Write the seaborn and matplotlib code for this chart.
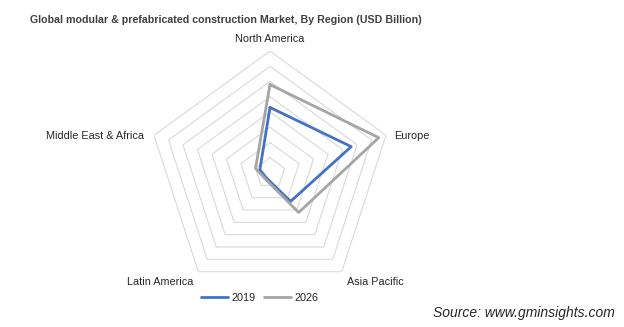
import numpy as np
import pandas as pd
import matplotlib
matplotlib.use("Agg")
import matplotlib.pyplot as plt
import seaborn as sns

categories = ["North America", "Europe", "Asia Pacific", "Latin America", "Middle East & Africa"]
values_2019 = [43, 56, 23, 4, 7]
values_2026 = [58, 75, 32, 5, 10]
years = ["2019", "2026"]
ring_levels = [10, 20, 30, 40, 50, 60, 70, 80]

sns.set_theme(style="white")
plt.rcParams['font.family'] = ['Liberation Sans', 'DejaVu Sans']

n = len(categories)
angles = np.linspace(0, 2 * np.pi, n, endpoint=False)

rows = []
for yr, vals in zip(years, [values_2019, values_2026]):
    for a, v in zip(list(angles) + [2 * np.pi], list(vals) + [vals[0]]):
        rows.append({"theta": a, "value": v, "year": yr})
df = pd.DataFrame(rows)

fig = plt.figure(figsize=(6.24, 3.27), dpi=100)
ax = fig.add_axes([0.2372, 0.0979, 0.391, 0.746], projection="polar")
ax.set_theta_offset(np.pi / 2)
ax.set_theta_direction(-1)
ax.set_ylim(0, ring_levels[-1])
ax.grid(False)
ax.spines["polar"].set_visible(False)
ax.set_xticks([])
ax.set_yticks([])
ax.patch.set_alpha(0)

# pentagon grid
for lv in ring_levels:
    ax.plot(list(angles) + [2 * np.pi], [lv] * (n + 1), color="#D9D9D9", lw=0.8, zorder=1)

palette = {"2019": "#4472C4", "2026": "#A5A5A5"}
sns.lineplot(data=df, x="theta", y="value", hue="year", palette=palette,
             sort=False, estimator=None, linewidth=2.0, ax=ax, legend=False, zorder=3)
ax.set_xlabel("")
ax.set_ylabel("")

rmax = ring_levels[-1]
lab_kw = dict(fontsize=7.8, color="#262626", annotation_clip=False, textcoords="offset pixels")
ax.annotate(categories[0], xy=(angles[0], rmax), xytext=(0, 7), ha="center", va="bottom", **lab_kw)
ax.annotate(categories[1], xy=(angles[1], rmax), xytext=(8, -1), ha="left", va="center", **lab_kw)
ax.annotate(categories[2], xy=(angles[2], rmax), xytext=(5, -10), ha="left", va="center", **lab_kw)
ax.annotate(categories[3], xy=(angles[3], rmax), xytext=(-5, -10), ha="right", va="center", **lab_kw)
ax.annotate(categories[4], xy=(angles[4], rmax), xytext=(-10, -1), ha="right", va="center", **lab_kw)

handles = [plt.Line2D([], [], color=palette[y], lw=2.0) for y in years]
fig.legend(handles, years, loc="center", bbox_to_anchor=(260 / 624, 1 - 298 / 327),
           ncol=2, frameon=False, fontsize=7.8, handlelength=2.5, handletextpad=0.3,
           columnspacing=0.8, labelcolor="#262626")

fig.text(30 / 624, 1 - 20 / 327,
         "Global modular & prefabricated construction Market, By Region (USD Billion)",
         ha="left", va="center", fontsize=7.7, fontweight="bold", color="#404040")
fig.text(615 / 624, 1 - 313 / 327, "Source: www.gminsights.com", ha="right", va="center",
         fontsize=10, style="italic", color="#262626")

fig.savefig("out.png", dpi=100)
